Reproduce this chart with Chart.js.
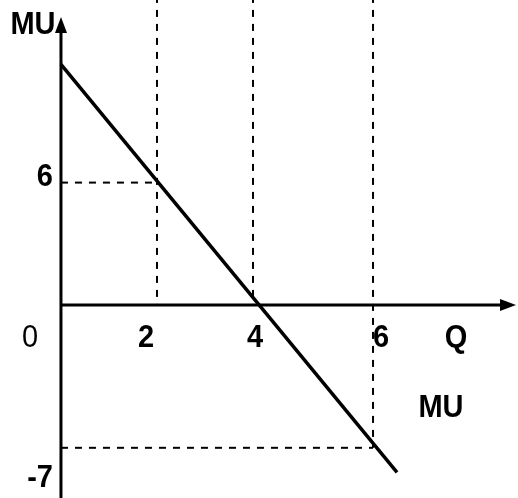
<!DOCTYPE html>
<html>
<head>
<meta charset="utf-8">
<script src="https://cdn.jsdelivr.net/npm/chart.js@4"></script>
<style>
  html, body { margin: 0; padding: 0; background: #fff; }
  #wrap { width: 518px; height: 498px; position: relative; }
</style>
</head>
<body>
<div id="wrap"><canvas id="c"></canvas></div>
<script>
// ---- data ----
const qTickLabels = ['2', '4', '6'];
const qTickValues = [2, 4, 6.5];        // where each Q guide is drawn on the axis
const muTickLabels = ['6', '-7'];
const muTickValues = [6, -7];
const muLineQ = [0, 7];                 // MU line end points (Q)
const muLineMU = [11.8, -8.2];          // MU line end points (MU)
const guideQ = [2, 4, 6.5];             // vertical dashed guides
const guideFloor = [0, 0, -7];          // each vertical guide runs down to this MU
const hGuideMU = [6, -7];               // horizontal dashed guides
const hGuideToQ = [2, 6.5];             // each horizontal guide runs from Q=0 to this Q

const X_MIN = -1.27, X_MAX = 9.52, Y_MIN = -9.46, Y_MAX = 14.95;

const datasets = [];
datasets.push({
  data: muLineQ.map((q, i) => ({ x: q, y: muLineMU[i] })),
  borderColor: '#000', borderWidth: 3.5, pointRadius: 0, borderCapStyle: 'butt'
});
guideQ.forEach((q, i) => datasets.push({
  data: [{ x: q, y: Y_MAX + 0.2 }, { x: q, y: guideFloor[i] }],
  borderColor: '#000', borderWidth: 2, borderDash: [7, 7], pointRadius: 0
}));
hGuideMU.forEach((m, i) => datasets.push({
  data: [{ x: 0, y: m }, { x: hGuideToQ[i], y: m }],
  borderColor: '#000', borderWidth: 2, borderDash: [7, 7], pointRadius: 0
}));

const FONT_B = 'bold 29px "Liberation Sans", Arial, sans-serif';
const FONT_R = '29px "Liberation Sans", Arial, sans-serif';
const V_STRETCH = 1.1;

function txt(ctx, s, x, y) {
  ctx.save();
  ctx.translate(x, y);
  ctx.scale(1, V_STRETCH);
  ctx.fillText(s, 0, 0);
  ctx.restore();
}

const axesPlugin = {
  id: 'axes',
  beforeDatasetsDraw(chart) {
    const ctx = chart.ctx, xs = chart.scales.x, ys = chart.scales.y;
    const x0 = xs.getPixelForValue(0), y0 = ys.getPixelForValue(0);
    const W = chart.width, H = chart.height;
    ctx.save();
    ctx.strokeStyle = '#000'; ctx.fillStyle = '#000'; ctx.lineWidth = 3;
    // y axis
    ctx.beginPath(); ctx.moveTo(x0, H); ctx.lineTo(x0, 30); ctx.stroke();
    ctx.beginPath(); ctx.moveTo(x0, 17); ctx.lineTo(x0 - 6, 33); ctx.lineTo(x0 + 6, 33); ctx.closePath(); ctx.fill();
    // x axis
    ctx.beginPath(); ctx.moveTo(x0, y0); ctx.lineTo(W - 14, y0); ctx.stroke();
    ctx.beginPath(); ctx.moveTo(W - 2, y0); ctx.lineTo(W - 18, y0 - 6); ctx.lineTo(W - 18, y0 + 6); ctx.closePath(); ctx.fill();
    ctx.restore();
  },
  afterDatasetsDraw(chart) {
    const ctx = chart.ctx, xs = chart.scales.x, ys = chart.scales.y;
    const x0 = xs.getPixelForValue(0), y0 = ys.getPixelForValue(0);
    ctx.save();
    ctx.fillStyle = '#000';
    ctx.textBaseline = 'alphabetic';
    // origin "0"
    ctx.font = FONT_R; ctx.textAlign = 'center';
    txt(ctx, '0', x0 - 31, y0 + 42);
    // Q tick labels
    ctx.font = FONT_B;
    const qOff = [-11, 2, 8];
    qTickLabels.forEach((t, i) => txt(ctx, t, xs.getPixelForValue(qTickValues[i]) + qOff[i], y0 + 42));
    txt(ctx, 'Q', x0 + 395, y0 + 42);
    // MU tick labels
    ctx.textAlign = 'right';
    const muOff = [3.5, 39];
    muTickLabels.forEach((t, i) => txt(ctx, t, x0 - 8, ys.getPixelForValue(muTickValues[i]) + muOff[i]));
    // axis titles
    ctx.textAlign = 'center';
    txt(ctx, 'MU', x0 - 28, 34);
    txt(ctx, 'MU', x0 + 380, y0 + 112);
    ctx.restore();
  }
};

new Chart(document.getElementById('c'), {
  type: 'line',
  data: { datasets },
  options: {
    responsive: true, maintainAspectRatio: false, animation: false,
    layout: { padding: 0 },
    plugins: { legend: { display: false }, tooltip: { enabled: false } },
    scales: {
      x: { type: 'linear', min: X_MIN, max: X_MAX, display: false },
      y: { type: 'linear', min: Y_MIN, max: Y_MAX, display: false }
    }
  },
  plugins: [axesPlugin]
});
</script>
</body>
</html>
